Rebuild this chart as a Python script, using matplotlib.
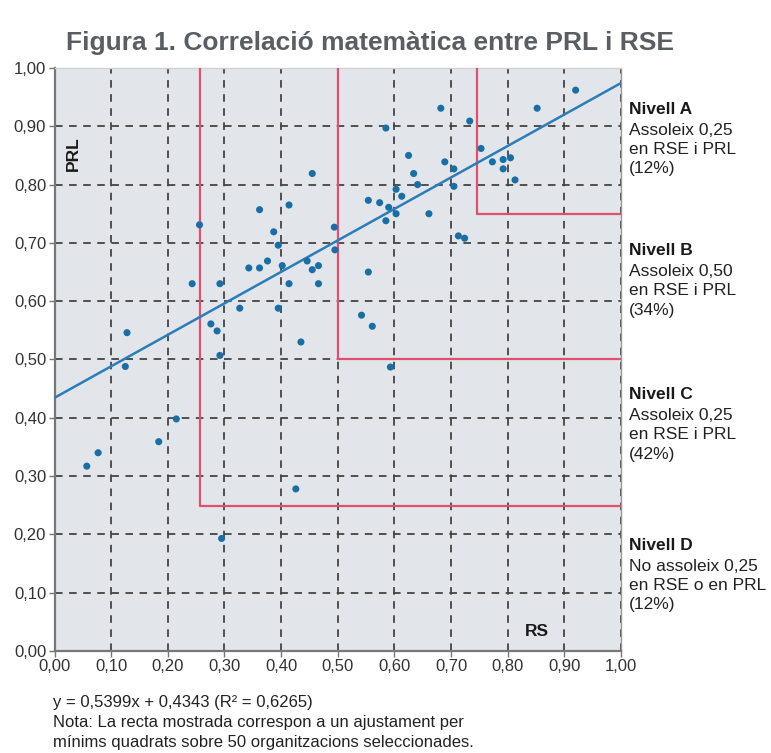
import numpy as np
import matplotlib.pyplot as plt
from matplotlib import transforms

plt.rcParams['font.family'] = ['Liberation Sans', 'DejaVu Sans']

# =====================
# data
# =====================
rs = [0.455, 0.362, 0.414, 0.256, 0.494, 0.387, 0.395, 0.495, 0.446, 0.376,
      0.343, 0.362, 0.402, 0.455, 0.466, 0.243, 0.292, 0.414, 0.466, 0.327,
      0.395, 0.128, 0.276, 0.287,
      0.920, 0.852, 0.682, 0.733, 0.585, 0.625, 0.753, 0.689, 0.705, 0.773,
      0.792, 0.805, 0.792, 0.813, 0.634, 0.641, 0.705, 0.603, 0.613, 0.554,
      0.574, 0.590, 0.603, 0.585, 0.661, 0.713, 0.724, 0.554, 0.542, 0.561,
      0.435, 0.125, 0.292, 0.215, 0.184, 0.077, 0.057, 0.426, 0.295, 0.593]
prl = [0.819, 0.757, 0.765, 0.731, 0.727, 0.719, 0.696, 0.688, 0.669, 0.669,
       0.657, 0.657, 0.661, 0.654, 0.661, 0.630, 0.630, 0.630, 0.630, 0.588,
       0.588, 0.546, 0.561, 0.549,
       0.962, 0.931, 0.931, 0.909, 0.897, 0.850, 0.862, 0.839, 0.827, 0.839,
       0.843, 0.846, 0.827, 0.808, 0.819, 0.800, 0.797, 0.792, 0.780, 0.773,
       0.769, 0.761, 0.750, 0.738, 0.750, 0.712, 0.708, 0.650, 0.576, 0.557,
       0.530, 0.488, 0.507, 0.398, 0.359, 0.340, 0.317, 0.278, 0.193, 0.487]

slope = 0.5399
intercept = 0.4343
r2 = 0.6265

# level boundaries (corner of each L-shaped red line)
level_x = [0.257, 0.500, 0.745]
level_y = [0.249, 0.500, 0.750]

level_names = ["Nivell A", "Nivell B", "Nivell C", "Nivell D"]
level_texts = ["Assoleix 0,25\nen RSE i PRL\n(12%)",
               "Assoleix 0,50\nen RSE i PRL\n(34%)",
               "Assoleix 0,25\nen RSE i PRL\n(42%)",
               "No assoleix 0,25\nen RSE o en PRL\n(12%)"]
level_pos = [0.942, 0.700, 0.453, 0.194]

ticks = np.round(np.arange(0, 1.01, 0.1), 2)
tick_labels = [f"{t:.2f}".replace(".", ",") for t in ticks]

# =====================
# figure
# =====================
fig = plt.figure(figsize=(7.71, 7.53), dpi=100)
ax = fig.add_axes([0.0707, 0.1355, 0.7347, 0.7742])
ax.set_facecolor("#e2e5e9")

ax.set_xlim(0, 1)
ax.set_ylim(0, 1)
ax.set_xticks(ticks)
ax.set_yticks(ticks)
ax.set_xticklabels(tick_labels)
ax.set_yticklabels(tick_labels)
ax.tick_params(labelsize=12, labelcolor="#333333", color="#777777",
               length=4, width=1, pad=2)

ax.grid(True, color="#444444", linestyle=(0, (4.2, 3.6)), linewidth=1.3)
ax.set_axisbelow(True)

for side in ["left", "bottom"]:
    ax.spines[side].set_color("#777777")
    ax.spines[side].set_linewidth(1.6)
ax.spines["right"].set_color("#999999")
ax.spines["right"].set_linewidth(1.0)
ax.spines["top"].set_color("#d0d3d6")
ax.spines["top"].set_linewidth(1.0)

# red level lines
for lx, ly in zip(level_x, level_y):
    ax.plot([lx, lx, 1.0], [1.0, ly, ly], color="#e0506e", linewidth=1.6,
            zorder=3)

# regression line
xf = np.array([0.0, 1.0])
ax.plot(xf, slope * xf + intercept, color="#2a7db8", linewidth=1.8, zorder=4)

# points
ax.scatter(rs, prl, s=26, color="#1a6ea6", edgecolors="none", zorder=5)

ax.text(0.033, 0.853, "PRL", rotation=90, fontsize=12.5, fontweight="bold",
        ha="center", va="center", color="#1a1a1a")
ax.text(0.851, 0.034, "RS", fontsize=12.5, fontweight="bold",
        ha="center", va="center", color="#1a1a1a")

# level texts on the right
trans = transforms.blended_transform_factory(ax.transAxes, ax.transData)
for name, txt, yp in zip(level_names, level_texts, level_pos):
    ax.text(1.014, yp, name, transform=trans, fontsize=12.5,
            fontweight="bold", va="top", ha="left", color="#1a1a1a")
    ax.text(1.014, yp - 0.036, txt, transform=trans, fontsize=12.5,
            va="top", ha="left", color="#222222", linespacing=1.36)

# =====================
# title + footnote
# =====================
fig.text(0.4805, 0.9336, "Figura 1. Correlació matemàtica entre PRL i RSE",
         fontsize=19, fontweight="bold", color="#5a5e63", ha="center",
         va="baseline")

note = (f"y = {slope:.4f}x + {intercept:.4f} (R² = {r2:.4f})".replace(".", ",")
        + "\nNota: La recta mostrada correspon a un ajustament per"
        + "\nmínims quadrats sobre 50 organitzacions seleccionades.")
fig.text(0.069, 1 - 695 / 753, note, fontsize=12, color="#222222",
         ha="left", va="top", linespacing=1.4)

fig.savefig("out.png", dpi=100)
